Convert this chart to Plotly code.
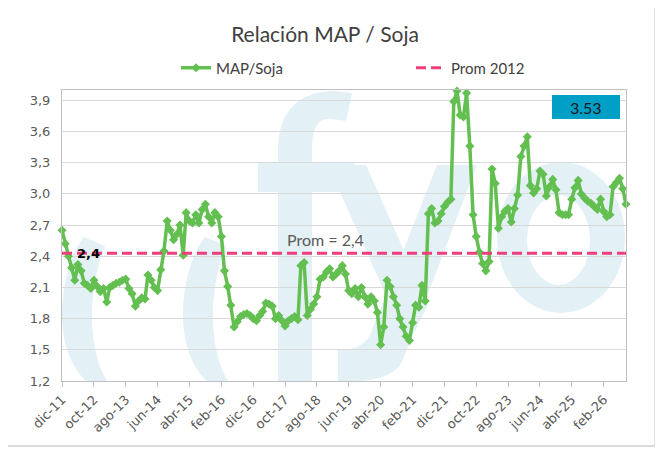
import pandas as pd
import plotly.graph_objects as go

# --- datos ---
inicio = "2011-12-01"

ratio_map_soja = [
    2.65, 2.52, 2.40, 2.29, 2.17, 2.32, 2.26, 2.14, 2.12, 2.09,
    2.17, 2.11, 2.06, 2.09, 1.96, 2.10, 2.12, 2.14, 2.15, 2.17,
    2.18, 2.09, 2.04, 1.92, 1.97, 2.00, 1.99, 2.22, 2.17, 2.10,
    2.07, 2.27, 2.45, 2.74, 2.65, 2.56, 2.61, 2.70, 2.41, 2.82,
    2.74, 2.72, 2.80, 2.72, 2.85, 2.90, 2.78, 2.72, 2.82, 2.78,
    2.59, 2.26, 2.11, 1.93, 1.72, 1.77, 1.82, 1.84, 1.85, 1.83,
    1.80, 1.78, 1.83, 1.87, 1.95, 1.94, 1.92, 1.80, 1.83, 1.78,
    1.73, 1.78, 1.80, 1.82, 1.79, 2.31, 2.34, 1.83, 1.89, 1.94,
    2.01, 2.18, 2.20, 2.25, 2.28, 2.20, 2.23, 2.26, 2.31, 2.23,
    2.07, 2.04, 2.09, 2.01, 2.10, 2.01, 1.94, 2.01, 1.97, 1.86,
    1.55, 1.72, 2.17, 2.11, 2.01, 1.93, 1.80, 1.72, 1.63, 1.59,
    1.76, 1.93, 1.91, 2.12, 1.97, 2.81, 2.86, 2.72, 2.74, 2.81,
    2.88, 2.92, 2.95, 3.89, 3.99, 3.76, 3.74, 3.97, 3.46, 2.80,
    2.59, 2.44, 2.33, 2.26, 2.35, 3.24, 3.10, 2.67, 2.78, 2.83,
    2.86, 2.73, 2.86, 2.99, 3.36, 3.46, 3.55, 3.08, 3.01, 3.05,
    3.22, 3.19, 2.98, 3.07, 3.14, 3.04, 2.82, 2.80, 2.80, 2.80,
    2.95, 3.06, 3.13, 3.00, 2.96, 2.93, 2.91, 2.88, 2.85, 2.95,
    2.83, 2.78, 2.80, 3.07, 3.11, 3.15, 3.05, 2.90,
]

prom_2012 = 2.43
ultimo_valor = "3.53"

etiquetas_x = ["dic-11", "oct-12", "ago-13", "jun-14", "abr-15", "feb-16",
               "dic-16", "oct-17", "ago-18", "jun-19", "abr-20", "feb-21",
               "dic-21", "oct-22", "ago-23", "jun-24", "abr-25", "feb-26"]
paso_etiquetas = 10

meses = pd.date_range(inicio, periods=len(ratio_map_soja), freq="MS")

VERDE = "#63BF50"
ROSA = "#EE3F7C"
GRIS_TXT = "#595959"
GRIS_EJE = "#BFBFBF"
AGUA = "#E3F1F6"

# la página deja 8 px de margen: la figura empieza en (8, 8) de la captura
OFF = 8
W, H = 655, 444
PX0, PY0, PW, PH = 62, 90, 564, 291          # área de trazado en la captura
L, T = PX0 - OFF, PY0 - OFF
R, B = W - L - PW, H - T - PH


def pp(x, y):
    """pixel de la captura -> coordenadas paper"""
    return (x - PX0) / PW, (PY0 + PH - y) / PH


def ruta(*pts):
    out = []
    for p in pts:
        if isinstance(p, str):
            out.append(p)
        else:
            a, b = pp(*p)
            out.append(f"{a:.4f},{b:.4f}")
    return " ".join(out) + " Z"


fig = go.Figure()

fig.add_trace(go.Scatter(
    x=meses, y=ratio_map_soja, name="MAP/Soja", mode="lines+markers",
    line=dict(color=VERDE, width=3.5),
    marker=dict(symbol="diamond", size=7, color=VERDE),
    cliponaxis=False,
))
fig.add_trace(go.Scatter(
    x=[meses[0], meses[-1]], y=[prom_2012, prom_2012], name="Prom 2012",
    mode="lines", line=dict(color=ROSA, width=3, dash="10px,5px"),
))

# marca de agua (letras claras de fondo)
shapes = []


def arco(dx):
    return ruta("M", (84 + dx, 237), "C", (70 + dx, 255), (62 + dx, 285), (62 + dx, 315),
                "C", (62 + dx, 345), (72 + dx, 368), (86 + dx, 381), "L", (107 + dx, 381),
                "C", (97 + dx, 365), (92 + dx, 342), (92 + dx, 315),
                "C", (92 + dx, 290), (97 + dx, 265), (105 + dx, 246))


for dx in (0, 121):
    shapes.append(dict(type="path", path=arco(dx)))
shapes.append(dict(type="path", path=ruta(
    "M", (278, 381), "L", (278, 150), "C", (278, 110), (300, 91), (335, 91), "L", (352, 93),
    "L", (346, 121), "C", (340, 120), (332, 119), (328, 119),
    "C", (318, 119), (312, 128), (312, 150), "L", (312, 381))))
x0, y0 = pp(258, 192)
x1, y1 = pp(355, 163)
shapes.append(dict(type="rect", x0=x0, y0=y0, x1=x1, y1=y1))
shapes.append(dict(type="path", path=ruta(
    "M", (328, 165), "L", (366, 165), "L", (428, 305), "L", (408, 345))))
shapes.append(dict(type="path", path=ruta(
    "M", (437, 165), "L", (477, 165), "L", (402, 362), "C", (394, 376), (375, 381), (352, 381),
    "L", (338, 381), "L", (338, 350), "C", (350, 350), (362, 348), (370, 335))))
x0, y0 = pp(497, 313)
x1, y1 = pp(625, 162)
shapes.append(dict(type="circle", x0=x0, y0=y0, x1=x1, y1=y1))
for s in shapes:
    s.update(xref="paper", yref="paper", layer="below", fillcolor=AGUA, line=dict(width=0))
x0, y0 = pp(527, 285)
x1, y1 = pp(590, 195)
shapes.append(dict(type="circle", xref="paper", yref="paper", x0=x0, y0=y0, x1=x1, y1=y1,
                   layer="below", fillcolor="white", line=dict(width=0)))

# recuadro del último valor
x0, y0 = pp(552, 119)
x1, y1 = pp(620, 95)
shapes.append(dict(type="rect", xref="paper", yref="paper", x0=x0, y0=y0, x1=x1, y1=y1,
                   fillcolor="#009FC6", line=dict(width=0)))
# borde del gráfico
x0, y0 = pp(6, 446)
x1, y1 = pp(655, 6)
shapes.append(dict(type="rect", xref="paper", yref="paper", x0=x0, y0=y0, x1=x1, y1=y1,
                   line=dict(color="#D0D0D0", width=1.3)))

fig.update_layout(shapes=shapes)

fig.add_annotation(x=pp(88, 0)[0], xref="paper", y=prom_2012, yref="y", text="<b>2,4</b>",
                   xanchor="center", yanchor="middle", showarrow=False,
                   font=dict(family="DejaVu Sans", size=13, color="black"))
fig.add_annotation(x=pp(325, 0)[0], xref="paper", y=pp(0, 240)[1], yref="paper",
                   text="Prom = 2,4", xanchor="center", yanchor="middle", showarrow=False,
                   font=dict(family="Lato", size=16, color=GRIS_TXT))
fig.add_annotation(x=pp(586, 0)[0], xref="paper", y=pp(0, 107)[1], yref="paper",
                   text=ultimo_valor, xanchor="center", yanchor="middle", showarrow=False,
                   font=dict(family="Lato", size=16, color="#1A1A1A"))

fig.update_layout(
    width=W, height=H, autosize=False,
    margin=dict(l=L, r=R, t=T, b=B),
    paper_bgcolor="white", plot_bgcolor="rgba(0,0,0,0)",
    separators=",.",
    title=dict(text="Relación MAP / Soja", x=(325 - OFF) / W, xref="container",
               xanchor="center", y=1 - (35 - OFF) / H, yref="container", yanchor="middle",
               font=dict(family="Lato", size=21, color="#404040")),
    legend=dict(orientation="h", x=pp(176, 0)[0], xanchor="left", y=pp(0, 68)[1],
                yanchor="middle", entrywidth=190, entrywidthmode="pixels",
                font=dict(family="Lato", size=15, color="#404040"), bgcolor="rgba(0,0,0,0)"),
    showlegend=True,
)

fig.update_xaxes(
    type="date", range=[meses[0], meses[-1]],
    tickvals=list(meses[::paso_etiquetas]), ticktext=etiquetas_x, tickangle=-45,
    ticks="outside", ticklen=5, tickcolor=GRIS_EJE,
    showgrid=False, showline=True, linecolor=GRIS_EJE, linewidth=1, mirror=True,
    tickfont=dict(family="DejaVu Sans", size=13, color=GRIS_TXT),
)
fig.update_yaxes(
    range=[1.2, 4.0], tick0=1.2, dtick=0.3, tickformat=".1f",
    showgrid=True, gridcolor="#D9D9D9", gridwidth=1, zeroline=False,
    showline=True, linecolor=GRIS_EJE, linewidth=1, mirror=True,
    ticklabelstandoff=8,
    tickfont=dict(family="DejaVu Sans", size=13, color=GRIS_TXT),
)

fig.write_html("out.html")
